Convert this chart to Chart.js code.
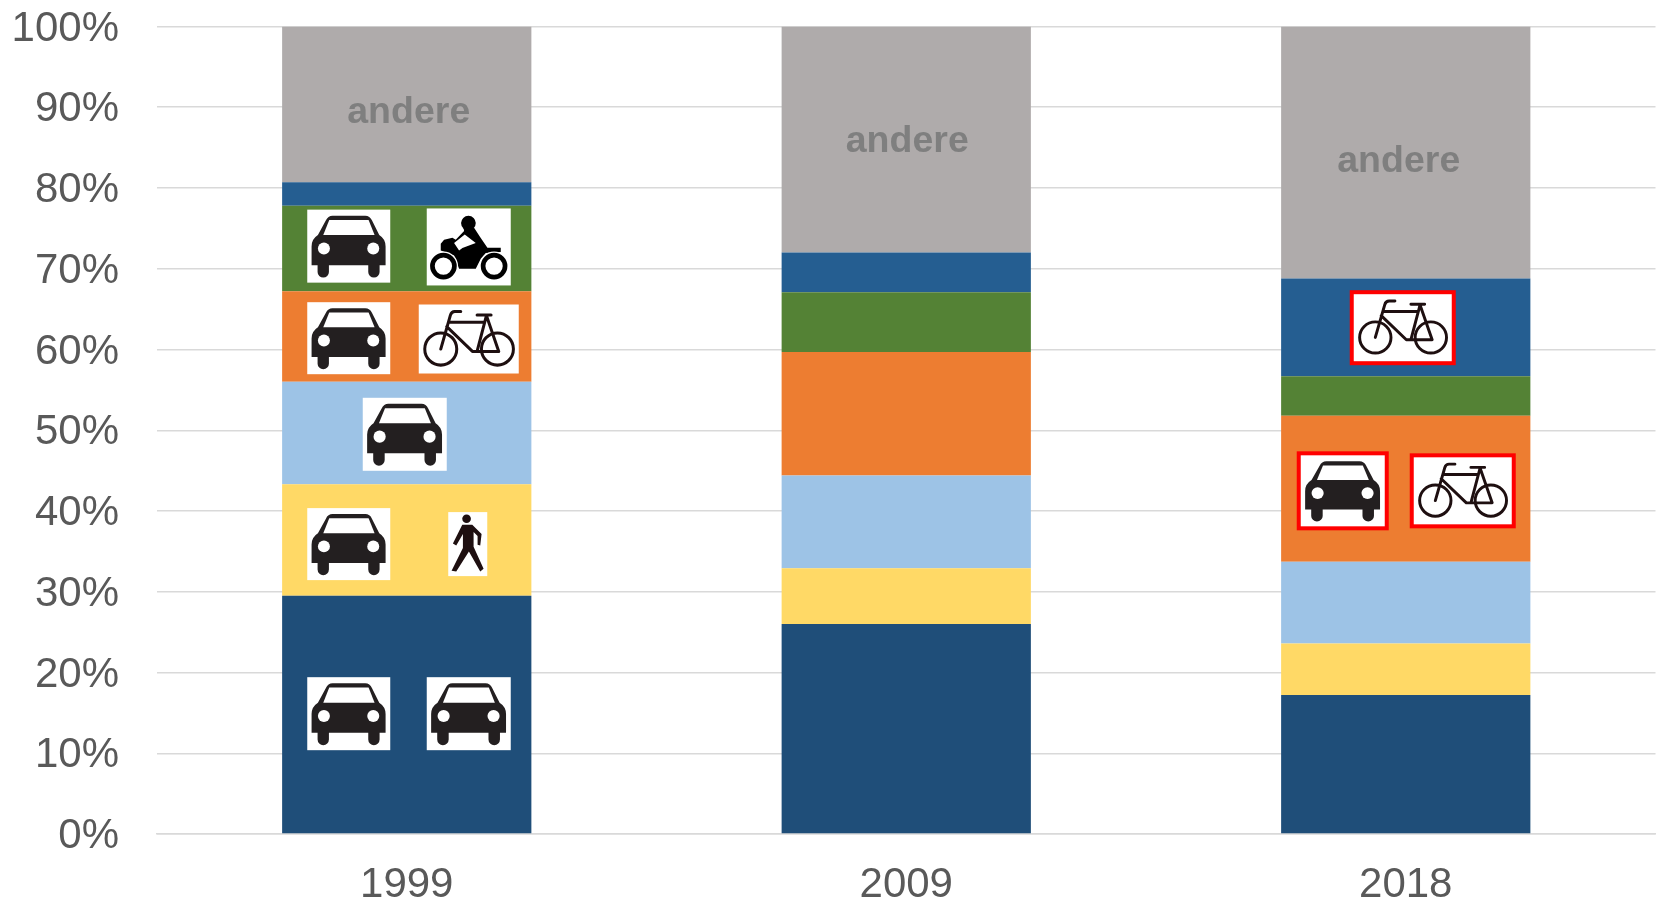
<!DOCTYPE html>
<html>
<head>
<meta charset="utf-8">
<title>Chart</title>
<script src="https://cdn.jsdelivr.net/npm/chart.js@4"></script>
<style>
  html, body { margin: 0; padding: 0; background: #fff; }
  canvas { display: block; }
</style>
</head>
<body>
<canvas id="chart" width="1661" height="904"></canvas>
<script>
const categories = ['1999', '2009', '2018'];
const yTicks = [0, 10, 20, 30, 40, 50, 60, 70, 80, 90, 100];

const darkBlue = [29.5, 26.0, 17.2];
const yellow = [13.8, 6.9, 6.4];
const lightBlue = [12.7, 11.5, 10.1];
const orange = [11.2, 15.3, 18.1];
const green = [10.6, 7.4, 4.9];
const midBlue = [2.9, 4.9, 12.1];
const andere = [19.3, 28.0, 31.2];

// where the word "andere" sits on each bar, in axis percent
const andereLabelY = [89.3, 85.7, 83.3];

// signs on the bars: category index, sign type, height in axis percent
const signCategory = [0, 0, 0, 0, 0, 0, 0, 0, 0, 2, 2, 2];
const signType = ['car', 'car', 'car', 'walker', 'car', 'car', 'bike', 'car', 'moto', 'bike', 'car', 'bike'];
const signValue = [14.9, 14.9, 35.9, 35.9, 49.5, 61.4, 61.3, 72.8, 72.7, 62.7, 42.5, 42.5];

const signOffsetX = [-58, 62, -58, 61, -2, -58, 62, -58, 62, -3, -63, 57];
const signWidth = [83, 84, 83, 39, 84, 83, 100, 83, 84, 106, 92, 106];
const signHeight = [73, 73, 72, 64, 73, 72, 69, 73, 77, 75, 79, 75];
const signFramed = [false, false, false, false, false, false, false, false, false, true, true, true];

const andereOffsetX = [2, 1, -7];

const TEXT_GREY = '#595959';
const GRID_GREY = '#D9D9D9';
const FONT = '"Liberation Sans", Arial, sans-serif';

function drawCar(ctx) {
  // unit box 249 x 218
  ctx.fillStyle = '#231F20';
  ctx.beginPath();
  ctx.moveTo(76, 18);
  ctx.lineTo(174, 18);
  ctx.quadraticCurveTo(188, 18, 194, 32);
  ctx.lineTo(216, 76);
  ctx.quadraticCurveTo(235, 88, 235, 110);
  ctx.lineTo(235, 166);
  ctx.lineTo(217, 166);
  ctx.lineTo(217, 186);
  ctx.arc(200, 186, 17, 0, Math.PI);
  ctx.lineTo(183, 166);
  ctx.lineTo(65, 166);
  ctx.lineTo(65, 186);
  ctx.arc(48, 186, 17, 0, Math.PI);
  ctx.lineTo(31, 166);
  ctx.lineTo(13, 166);
  ctx.lineTo(13, 110);
  ctx.quadraticCurveTo(13, 88, 32, 76);
  ctx.lineTo(56, 32);
  ctx.quadraticCurveTo(62, 18, 76, 18);
  ctx.closePath();
  ctx.fill();

  ctx.fillStyle = '#fff';
  ctx.beginPath();
  ctx.moveTo(66, 31);
  ctx.lineTo(184, 31);
  ctx.lineTo(202, 76);
  ctx.lineTo(48, 76);
  ctx.closePath();
  ctx.fill();
  [50, 198].forEach(x => {
    ctx.beginPath();
    ctx.arc(x, 116, 18, 0, Math.PI * 2);
    ctx.fill();
  });
}

function drawBike(ctx) {
  // unit box 300 x 206
  ctx.strokeStyle = '#1E0F10';
  ctx.lineWidth = 9;
  ctx.lineCap = 'round';
  ctx.lineJoin = 'round';
  [66, 236].forEach(x => {
    ctx.beginPath();
    ctx.arc(x, 133, 48, 0, Math.PI * 2);
    ctx.stroke();
  });
  ctx.beginPath();
  ctx.moveTo(126, 21);
  ctx.lineTo(108, 21);
  ctx.quadraticCurveTo(98, 21, 95, 32);
  ctx.lineTo(66, 133);
  ctx.moveTo(90, 53);
  ctx.lineTo(198, 53);
  ctx.moveTo(84, 66);
  ctx.lineTo(161, 140);
  ctx.lineTo(240, 140);
  ctx.lineTo(203, 33);
  ctx.moveTo(203, 33);
  ctx.lineTo(175, 140);
  ctx.moveTo(175, 31);
  ctx.lineTo(217, 31);
  ctx.stroke();
}

function drawMoto(ctx) {
  // unit box 252 x 231
  ctx.fillStyle = '#000';
  ctx.beginPath();
  ctx.moveTo(42, 106);
  ctx.lineTo(52, 94);
  ctx.lineTo(77, 88);
  ctx.lineTo(87, 94);
  ctx.lineTo(112, 68);
  ctx.lineTo(110, 56);
  ctx.lineTo(142, 58);
  ctx.lineTo(160, 86);
  ctx.lineTo(182, 118);
  ctx.lineTo(222, 118);
  ctx.lineTo(222, 131);
  ctx.lineTo(177, 134);
  ctx.lineTo(162, 151);
  ctx.lineTo(147, 181);
  ctx.lineTo(97, 181);
  ctx.lineTo(82, 141);
  ctx.lineTo(42, 126);
  ctx.closePath();
  ctx.fill();
  ctx.beginPath();
  ctx.arc(125, 44, 22, 0, Math.PI * 2);
  ctx.fill();

  ctx.fillStyle = '#fff';
  ctx.beginPath();
  ctx.moveTo(82, 104);
  ctx.lineTo(114, 78);
  ctx.lineTo(147, 104);
  ctx.lineTo(107, 119);
  ctx.lineTo(97, 126);
  ctx.closePath();
  ctx.fill();

  [[50, 173], [202, 173]].forEach(([x, y]) => {
    ctx.fillStyle = '#fff';
    ctx.beginPath();
    ctx.arc(x, y, 44, 0, Math.PI * 2);
    ctx.fill();
    ctx.strokeStyle = '#000';
    ctx.lineWidth = 14;
    ctx.beginPath();
    ctx.arc(x, y, 33, 0, Math.PI * 2);
    ctx.stroke();
  });
}

function drawWalker(ctx) {
  // unit box 117 x 192
  ctx.fillStyle = '#1E0F10';
  ctx.beginPath();
  ctx.arc(55, 20, 13, 0, Math.PI * 2);
  ctx.fill();
  ctx.beginPath();
  ctx.moveTo(42, 38);
  ctx.lineTo(72, 38);
  ctx.lineTo(100, 66);
  ctx.lineTo(96, 100);
  ctx.lineTo(88, 98);
  ctx.lineTo(88, 72);
  ctx.lineTo(76, 60);
  ctx.lineTo(76, 104);
  ctx.lineTo(106, 170);
  ctx.lineTo(96, 178);
  ctx.lineTo(62, 118);
  ctx.lineTo(24, 178);
  ctx.lineTo(10, 176);
  ctx.lineTo(44, 108);
  ctx.lineTo(44, 66);
  ctx.lineTo(24, 100);
  ctx.lineTo(14, 94);
  ctx.closePath();
  ctx.fill();
}

const signArt = {
  car: { w: 249, h: 218, draw: drawCar },
  bike: { w: 300, h: 206, draw: drawBike },
  moto: { w: 252, h: 231, draw: drawMoto },
  walker: { w: 117, h: 192, draw: drawWalker }
};

const signPlugin = {
  id: 'signs',
  afterDatasetsDraw(chart) {
    const ctx = chart.ctx;
    const x = chart.scales.x;
    const y = chart.scales.y;

    // the word "andere" on the grey part of each bar
    ctx.save();
    ctx.font = 'bold 37.5px ' + FONT;
    ctx.fillStyle = '#7F7F7F';
    ctx.textAlign = 'center';
    ctx.textBaseline = 'middle';
    categories.forEach((c, i) => {
      ctx.fillText('andere', x.getPixelForValue(i) + andereOffsetX[i], y.getPixelForValue(andereLabelY[i]));
    });
    ctx.restore();

    signType.forEach((type, i) => {
      const art = signArt[type];
      const w = signWidth[i];
      const h = signHeight[i];
      const cx = x.getPixelForValue(signCategory[i]) + signOffsetX[i];
      const cy = y.getPixelForValue(signValue[i]);
      let left = cx - w / 2;
      let top = cy - h / 2;
      let innerW = w;
      let innerH = h;

      ctx.save();
      if (signFramed[i]) {
        ctx.fillStyle = '#FF0000';
        ctx.fillRect(left, top, w, h);
        left += 4;
        top += 4;
        innerW -= 8;
        innerH -= 8;
      }
      ctx.fillStyle = '#fff';
      ctx.fillRect(left, top, innerW, innerH);
      ctx.translate(left, top);
      ctx.scale(innerW / art.w, innerH / art.h);
      art.draw(ctx);
      ctx.restore();
    });
  }
};

const seriesValues = [darkBlue, yellow, lightBlue, orange, green, midBlue, andere];
const seriesColors = ['#1F4E79', '#FFD966', '#9DC3E6', '#ED7D31', '#548235', '#255E91', '#AFABAB'];
const seriesNames = ['Serie 1', 'Serie 2', 'Serie 3', 'Serie 4', 'Serie 5', 'Serie 6', 'andere'];

new Chart(document.getElementById('chart'), {
  type: 'bar',
  data: {
    labels: categories,
    datasets: seriesValues.map((data, i) => ({
      label: seriesNames[i],
      data,
      backgroundColor: seriesColors[i],
      borderWidth: 0,
      categoryPercentage: 1,
      barPercentage: 0.499
    }))
  },
  options: {
    responsive: false,
    animation: false,
    devicePixelRatio: 1,
    layout: { padding: { top: 26.5, right: 5.5, bottom: 0, left: 0 } },
    plugins: {
      legend: { display: false },
      tooltip: { enabled: false }
    },
    scales: {
      x: {
        stacked: true,
        grid: { display: false, drawTicks: false },
        border: { color: GRID_GREY, width: 1.5 },
        ticks: { color: TEXT_GREY, font: { family: FONT, size: 42 }, padding: 26, maxRotation: 0 },
        afterFit(scale) { scale.height = 70; }
      },
      y: {
        stacked: true,
        min: 0,
        max: 100,
        afterBuildTicks(scale) { scale.ticks = yTicks.map(value => ({ value })); },
        grid: { color: GRID_GREY, lineWidth: 1.5, drawTicks: false },
        border: { display: false },
        ticks: {
          color: TEXT_GREY,
          font: { family: FONT, size: 42 },
          padding: 38,
          labelOffset: 2.5,
          callback: value => value + '%'
        },
        afterFit(scale) {
          scale.width = 157;
          // labels may poke out above the plot, the top line sits near the edge
          scale.paddingTop = 0;
          scale.paddingBottom = 0;
        }
      }
    }
  },
  plugins: [signPlugin]
});
</script>
</body>
</html>
